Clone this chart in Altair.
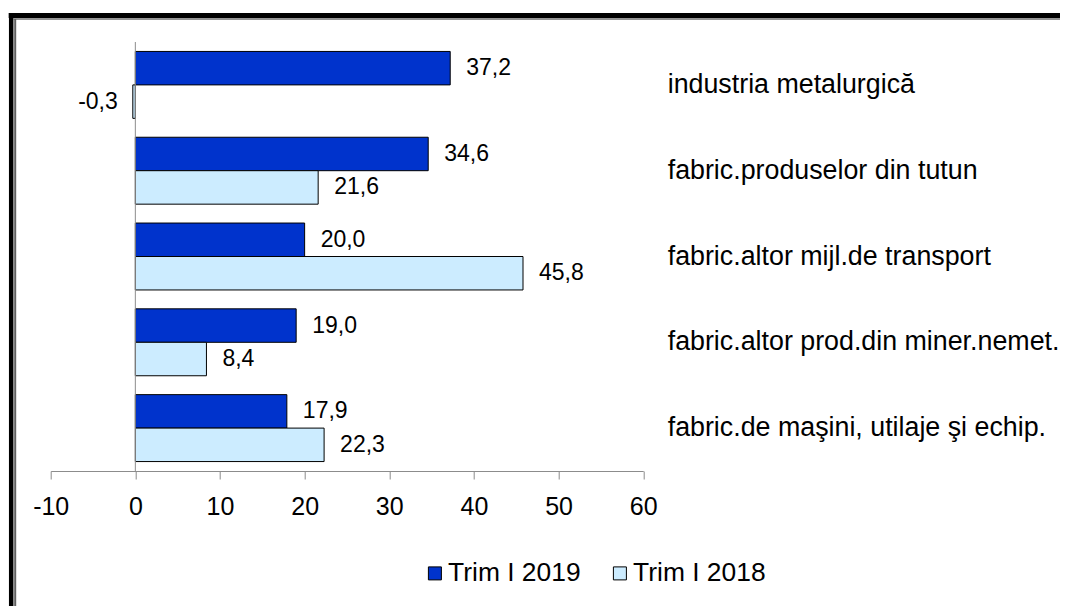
import altair as alt
import pandas as pd

categories = [
    "industria metalurgică",
    "fabric.produselor din tutun",
    "fabric.altor mijl.de transport",
    "fabric.altor prod.din miner.nemet.",
    "fabric.de maşini, utilaje şi echip.",
]
series = ["Trim I 2019", "Trim I 2018"]
values_2019 = [37.2, 34.6, 20.0, 19.0, 17.9]
values_2018 = [-0.3, 21.6, 45.8, 8.4, 22.3]
colors = ["#0033CC", "#CCECFF"]

rows = []
for cat, v19, v18 in zip(categories, values_2019, values_2018):
    for s, v in ((series[0], v19), (series[1], v18)):
        rows.append({"cat": cat, "series": s, "value": v,
                     "label": f"{v:.1f}".replace(".", ",")})
df = pd.DataFrame(rows)

FONT = "Liberation Sans"

y_enc = alt.Y("cat:N", sort=categories,
              scale=alt.Scale(paddingInner=0.22, paddingOuter=0.11),
              axis=alt.Axis(orient="right", title=None, domain=False, ticks=False,
                            grid=False,
                            labelAlign="left", labelPadding=24, labelFontSize=26.8,
                            labelFont=FONT, labelColor="black", labelLimit=500))
x_enc = alt.X("value:Q", scale=alt.Scale(domain=[-10, 60], nice=False),
              axis=alt.Axis(title=None, values=[-10, 0, 10, 20, 30, 40, 50, 60],
                            grid=False, domainColor="#8c8c8c", tickColor="#8c8c8c",
                            tickSize=8, labelPadding=15, labelFontSize=25,
                            labelFont=FONT, labelColor="black", labelFlush=False,
                            labelOverlap=False,
                            labelExpr="'' + datum.value"))

base = alt.Chart(df)

bars = base.mark_bar(stroke="black", strokeWidth=1).encode(
    x=x_enc,
    y=y_enc,
    yOffset=alt.YOffset("series:N", sort=series),
    color=alt.Color("series:N", sort=series,
                    scale=alt.Scale(domain=series, range=colors),
                    legend=alt.Legend(orient="none", legendX=371, legendY=518,
                                      direction="horizontal", title=None,
                                      symbolType="square", symbolSize=169,
                                      symbolStrokeColor="black", symbolStrokeWidth=1,
                                      labelFontSize=26.4, labelFont=FONT,
                                      labelColor="black", labelOffset=0,
                                      columnPadding=26)),
)

pos_labels = base.transform_filter("datum.value >= 0").mark_text(
    align="left", baseline="middle", dx=16, fontSize=23, font=FONT, color="black"
).encode(
    x="value:Q",
    y=alt.Y("cat:N", sort=categories),
    yOffset=alt.YOffset("series:N", sort=series),
    text="label:N",
)

neg_labels = base.transform_filter("datum.value < 0").mark_text(
    align="right", baseline="middle", dx=-15, fontSize=23, font=FONT, color="black"
).encode(
    x="value:Q",
    y=alt.Y("cat:N", sort=categories),
    yOffset=alt.YOffset("series:N", sort=series),
    text="label:N",
)

zero = alt.Chart(pd.DataFrame({"z": [0]})).mark_rule(color="#8c8c8c", strokeWidth=1).encode(
    x="z:Q"
)

frame_data = alt.Data(values=[{"a": 1}])
top_black = alt.Chart(frame_data).mark_rule(color="black", strokeWidth=5, clip=False).encode(
    x=alt.value(-42), x2=alt.value(1020), y=alt.value(-26.5))
top_grey = alt.Chart(frame_data).mark_rule(color="#707070", strokeWidth=1.5, clip=False).encode(
    x=alt.value(-37), x2=alt.value(1020), y=alt.value(-23))
left_black = alt.Chart(frame_data).mark_rule(color="black", strokeWidth=4.5, clip=False).encode(
    x=alt.value(-39.5), y=alt.value(-29), y2=alt.value(580))
left_grey = alt.Chart(frame_data).mark_rule(color="#606060", strokeWidth=2, clip=False).encode(
    x=alt.value(-35.5), y=alt.value(-23), y2=alt.value(580))

chart = alt.layer(bars, zero, pos_labels, neg_labels,
                  top_black, top_grey, left_black, left_grey).properties(
    width=592.5, height=429,
    autosize=alt.AutoSizeParams(type="none"),
    padding={"left": 42.7, "top": 34, "right": 416.8, "bottom": 135},
).configure(font=FONT).configure_view(stroke=None)

chart.save("out.html", embed_options={"renderer": "svg", "actions": False})
